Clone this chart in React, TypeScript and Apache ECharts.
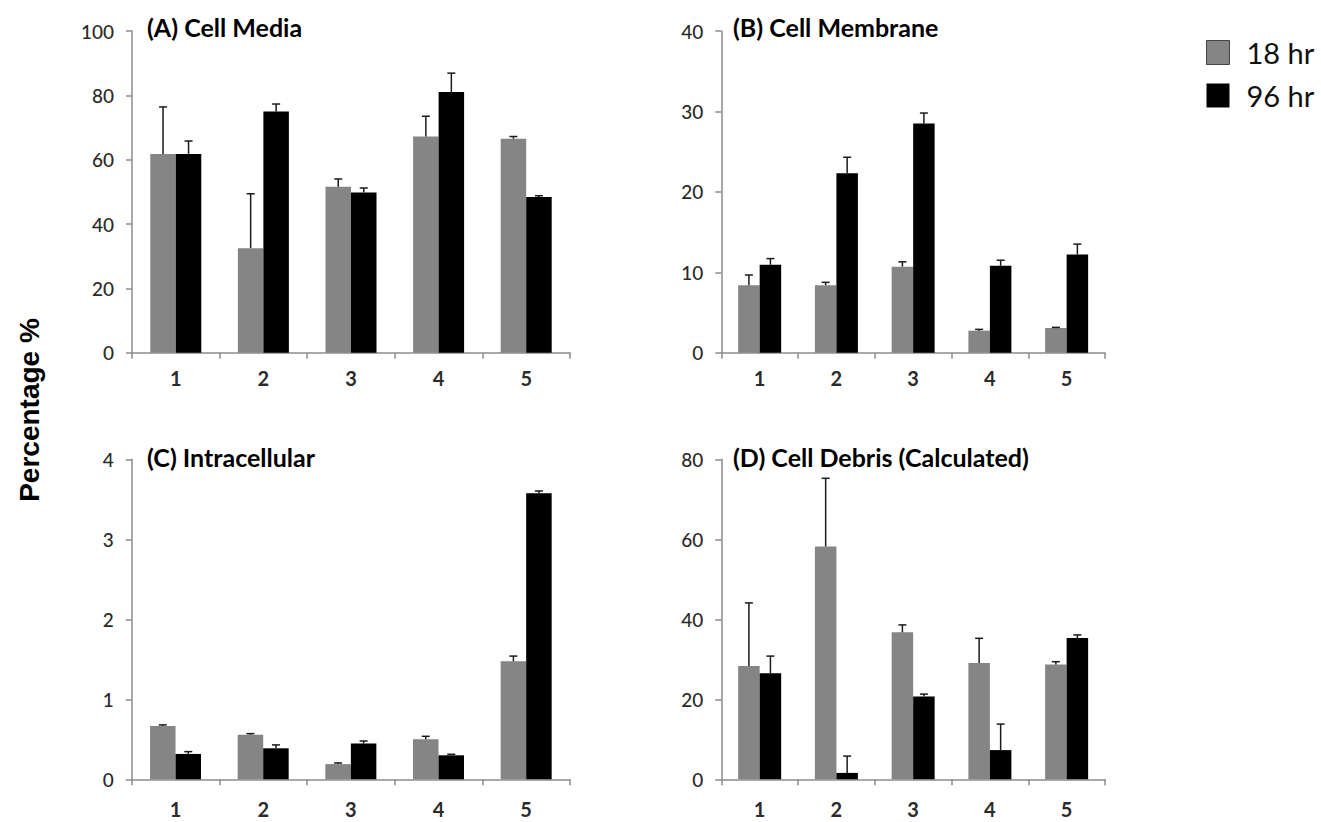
import React, { useEffect, useRef } from "react";
import * as echarts from "echarts";

const categories = ["1", "2", "3", "4", "5"];
const seriesNames = ["18 hr", "96 hr"];

// (A) Cell Media
const mediaH18 = [61.8, 32.5, 51.6, 67.2, 66.5];
const mediaH18Err = [14.6, 16.9, 2.4, 6.3, 0.7];
const mediaH96 = [61.8, 75.0, 49.8, 81.0, 48.4];
const mediaH96Err = [4.0, 2.3, 1.4, 5.9, 0.4];

// (B) Cell Membrane
const membraneH18 = [8.4, 8.4, 10.7, 2.74, 3.07];
const membraneH18Err = [1.26, 0.35, 0.6, 0.16, 0.08];
const membraneH96 = [10.94, 22.3, 28.5, 10.8, 12.2];
const membraneH96Err = [0.76, 2.0, 1.3, 0.7, 1.3];

// (C) Intracellular
const intraH18 = [0.667, 0.558, 0.19, 0.5, 1.475];
const intraH18Err = [0.013, 0.013, 0.014, 0.0375, 0.065];
const intraH96 = [0.317, 0.3875, 0.446, 0.3, 3.575];
const intraH96Err = [0.029, 0.0425, 0.033, 0.0125, 0.029];

// (D) Cell Debris (Calculated)
const debrisH18 = [28.3, 58.2, 36.75, 29.1, 28.7];
const debrisH18Err = [15.8, 17.05, 1.85, 6.15, 0.7];
const debrisH96 = [26.5, 1.6, 20.7, 7.3, 35.3];
const debrisH96Err = [4.3, 4.2, 0.6, 6.5, 0.8];

const panelTitles = [
  "(A) Cell Media",
  "(B) Cell Membrane",
  "(C) Intracellular",
  "(D) Cell Debris (Calculated)",
];
const yMax = [100, 40, 4, 80];
const yInterval = [20, 10, 1, 20];
const yAxisTitle = "Percentage %";

const GRAY = "#858585";
const BLACK = "#000000";
const AXIS = "#8c8c8c";
const FONT = "Lato, 'Open Sans', sans-serif";

const panels = [
  { h18: mediaH18, e18: mediaH18Err, h96: mediaH96, e96: mediaH96Err },
  { h18: membraneH18, e18: membraneH18Err, h96: membraneH96, e96: membraneH96Err },
  { h18: intraH18, e18: intraH18Err, h96: intraH96, e96: intraH96Err },
  { h18: debrisH18, e18: debrisH18Err, h96: debrisH96, e96: debrisH96Err },
];

const grids = [
  { left: 132, top: 31, width: 438, height: 321.7 },
  { left: 721.3, top: 31, width: 383.7, height: 321.7 },
  { left: 131.7, top: 459.3, width: 438.3, height: 320 },
  { left: 721.3, top: 459.3, width: 383.7, height: 320 },
];
const barWidths = [25.5, 21.5, 25.5, 21.5];
const xLabelMargins = [15, 15, 20, 20];
const titlePos = [
  { x: 147, y: 27 },
  { x: 733, y: 27 },
  { x: 147, y: 457 },
  { x: 733, y: 457 },
];

export default function App() {
  const ref = useRef<HTMLDivElement>(null);

  useEffect(() => {
    if (!ref.current) return;
    const chart = echarts.init(ref.current, undefined, { renderer: "svg" });

    const series: any[] = [];
    panels.forEach((p, i) => {
      const bw = barWidths[i];
      series.push({
        name: seriesNames[0],
        type: "bar",
        xAxisIndex: i,
        yAxisIndex: i,
        data: p.h18,
        barWidth: bw,
        barGap: "0%",
        itemStyle: { color: GRAY },
        z: 2,
      });
      series.push({
        name: seriesNames[1],
        type: "bar",
        xAxisIndex: i,
        yAxisIndex: i,
        data: p.h96,
        barWidth: bw,
        barGap: "0%",
        itemStyle: { color: BLACK },
        z: 2,
      });
      [
        { vals: p.h18, errs: p.e18, dir: -1 },
        { vals: p.h96, errs: p.e96, dir: 1 },
      ].forEach((s) => {
        series.push({
          type: "custom",
          xAxisIndex: i,
          yAxisIndex: i,
          silent: true,
          z: 3,
          data: s.vals.map((v, k) => [k, v, v + s.errs[k]]),
          renderItem: (params: any, api: any) => {
            const base = api.coord([api.value(0), api.value(1)]);
            const top = api.coord([api.value(0), api.value(2)]);
            const x = base[0] + (s.dir * bw) / 2;
            const style = { stroke: "#1a1a1a", lineWidth: 1.5 };
            return {
              type: "group",
              children: [
                { type: "line", shape: { x1: x, y1: base[1], x2: x, y2: top[1] }, style },
                { type: "line", shape: { x1: x - 4, y1: top[1], x2: x + 4, y2: top[1] }, style },
              ],
            };
          },
        });
      });
    });

    const option: any = {
      animation: false,
      backgroundColor: "#ffffff",
      grid: grids.map((g) => ({ ...g, containLabel: false })),
      xAxis: grids.map((_, i) => ({
        type: "category",
        gridIndex: i,
        data: categories,
        boundaryGap: true,
        axisLine: { lineStyle: { color: AXIS, width: 1.5 } },
        axisTick: { show: true, length: 6, lineStyle: { color: AXIS, width: 1.5 } },
        axisLabel: {
          color: "#2b2b2b",
          fontFamily: FONT,
          fontSize: 20,
          fontWeight: "bold",
          margin: xLabelMargins[i],
        },
        splitLine: { show: false },
      })),
      yAxis: grids.map((_, i) => ({
        type: "value",
        gridIndex: i,
        min: 0,
        max: yMax[i],
        interval: yInterval[i],
        axisLine: { show: true, lineStyle: { color: AXIS, width: 1.5 } },
        axisTick: { show: true, length: 6, lineStyle: { color: AXIS, width: 1.5 } },
        axisLabel: {
          color: "#2a2a2a",
          fontFamily: FONT,
          fontSize: 19,
          fontWeight: 500,
          margin: 18,
        },
        splitLine: { show: false },
      })),
      legend: {
        orient: "vertical",
        left: 1206,
        top: 38,
        padding: 0,
        itemWidth: 23,
        itemHeight: 24,
        itemGap: 14,
        icon: "rect",
        data: [
          { name: seriesNames[0], itemStyle: { color: GRAY, borderColor: "#444", borderWidth: 1 } },
          { name: seriesNames[1], itemStyle: { color: BLACK } },
        ],
        textStyle: {
          fontFamily: FONT,
          fontSize: 29,
          color: "#111",
          padding: [0, 0, 0, 12],
        },
        selectedMode: false,
      },
      graphic: [
        ...panelTitles.map((t, i) => ({
          type: "text",
          x: titlePos[i].x,
          y: titlePos[i].y,
          style: {
            text: t,
            fontFamily: FONT,
            fontSize: 25,
            fontWeight: "bold",
            fill: "#000",
            verticalAlign: "middle",
            align: "left",
          },
        })),
        {
          type: "text",
          x: 29,
          y: 410,
          rotation: Math.PI / 2,
          style: {
            text: yAxisTitle,
            fontFamily: "'Liberation Sans', Arial, sans-serif",
            fontSize: 28,
            fontWeight: "bold",
            fill: "#000",
            align: "center",
            verticalAlign: "middle",
          },
        },
      ],
      series,
    };

    chart.setOption(option);
    return () => chart.dispose();
  }, []);

  return (
    <div
      ref={ref}
      style={{ position: "fixed", left: 0, top: 0, width: 1321, height: 822, background: "#fff" }}
    />
  );
}
